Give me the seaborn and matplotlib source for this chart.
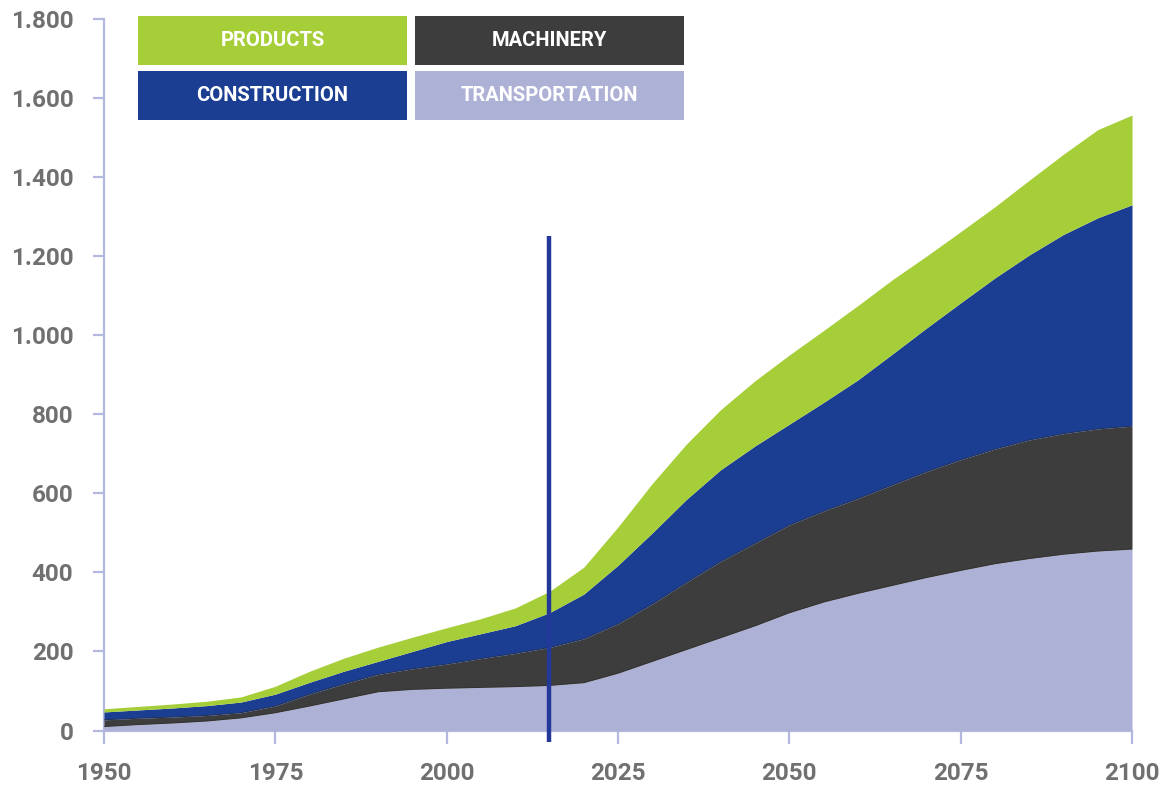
import numpy as np
import pandas as pd
import matplotlib
matplotlib.use("Agg")
import matplotlib.pyplot as plt
from matplotlib.patches import Rectangle
import seaborn as sns

# ---- data (cumulative tops) ----
years = [1950, 1955, 1960, 1965, 1970, 1975, 1980, 1985, 1990, 1995, 2000,
         2005, 2010, 2015, 2020, 2025, 2030, 2035, 2040, 2045, 2050, 2055,
         2060, 2065, 2070, 2075, 2080, 2085, 2090, 2095, 2100]
transportation = [10, 15, 19, 24, 32, 45, 62, 80, 98, 104, 107, 109, 111, 114, 121,
                  145, 175, 205, 235, 265, 298, 325, 347, 367, 387, 405, 422, 435,
                  446, 454, 459]
machinery_top = [27, 31, 34, 38, 45, 62, 92, 118, 142, 156, 168, 182, 195, 210, 232,
                 270, 320, 375, 428, 474, 520, 555, 587, 621, 655, 685, 712, 735,
                 751, 763, 770]
construction_top = [47, 52, 57, 63, 72, 92, 122, 150, 175, 200, 225, 245, 265, 298, 345,
                    418, 500, 585, 660, 720, 775, 830, 887, 952, 1018, 1082, 1145, 1203,
                    1255, 1297, 1330]
products_top = [55, 61, 67, 74, 85, 112, 150, 183, 211, 236, 260, 283, 310, 352, 413,
                515, 625, 725, 812, 885, 950, 1012, 1075, 1140, 1200, 1262, 1325, 1392,
                1458, 1520, 1557]

machinery = list(np.array(machinery_top) - np.array(transportation))
construction = list(np.array(construction_top) - np.array(machinery_top))
products = list(np.array(products_top) - np.array(construction_top))

categories = ["TRANSPORTATION", "MACHINERY", "CONSTRUCTION", "PRODUCTS"]
colors = {"TRANSPORTATION": "#ADB1D6", "MACHINERY": "#3D3D3D",
          "CONSTRUCTION": "#1B3E93", "PRODUCTS": "#A6CE39"}

x_ticks = [1950, 1975, 2000, 2025, 2050, 2075, 2100]
y_ticks = [0, 200, 400, 600, 800, 1000, 1200, 1400, 1600, 1800]
y_tick_labels = ["0", "200", "400", "600", "800", "1.000", "1.200", "1.400", "1.600", "1.800"]
marker_year = 2015
marker_top = 1250

legend_rows = [["PRODUCTS", "MACHINERY"], ["CONSTRUCTION", "TRANSPORTATION"]]

# ---- styling ----
sns.set_theme(style="white")
plt.rcParams["font.family"] = ["Roboto", "DejaVu Sans"]

spine_col = "#B4B8E0"
text_col = "#707070"

fig = plt.figure(figsize=(11.72, 7.93), dpi=100)
ax = fig.add_axes([104 / 1172, 62.5 / 793, 1028 / 1172, 711.5 / 793])

df = pd.DataFrame({"year": years, "TRANSPORTATION": transportation,
                   "MACHINERY": machinery, "CONSTRUCTION": construction,
                   "PRODUCTS": products})

base = np.zeros(len(df))
for cat in categories:
    top = base + df[cat].values
    ax.fill_between(df["year"], base, top, color=colors[cat], linewidth=0, zorder=2)
    base = top

# thin boundary lines (as in reference)
long = pd.DataFrame({"year": years * 2,
                     "val": transportation + machinery_top,
                     "edge": ["t"] * len(years) + ["m"] * len(years)})
sns.lineplot(data=long, x="year", y="val", units="edge", estimator=None,
             color="#2A2A2A", linewidth=0.6, alpha=0.6, ax=ax, zorder=3, legend=False)

# marker line at 2015
ax.plot([marker_year, marker_year], [-30, marker_top], color="#23399A",
        linewidth=3.2, solid_capstyle="butt", zorder=5, clip_on=False)

ax.set_xlim(1950, 2100)
ax.set_ylim(0, 1800)
ax.set_xticks(x_ticks)
ax.set_xticklabels([str(t) for t in x_ticks])
ax.set_yticks(y_ticks)
ax.set_yticklabels(y_tick_labels)
ax.set_xlabel("")
ax.set_ylabel("")

sns.despine(ax=ax, top=True, right=True)
for side in ["left", "bottom"]:
    ax.spines[side].set_color(spine_col)
    ax.spines[side].set_linewidth(1.6)
    ax.spines[side].set_zorder(1)

ax.tick_params(axis="x", bottom=True, direction="out", length=9, width=1.6, color=spine_col,
               pad=14, labelsize=17.5, labelcolor=text_col)
ax.tick_params(axis="y", left=True, direction="out", length=8, width=1.6, color=spine_col,
               pad=14, labelsize=17.5, labelcolor=text_col)
for lab in ax.get_xticklabels() + ax.get_yticklabels():
    lab.set_fontweight("bold")
ax.grid(False)

# legend boxes (figure pixel coords)
W, H = 1172, 793
box_x = [138, 415]
box_y = [16, 71]
box_w, box_h = 269, 49
for r, row in enumerate(legend_rows):
    for c, cat in enumerate(row):
        x0 = box_x[c]
        y0 = box_y[r]
        rect = Rectangle((x0 / W, 1 - (y0 + box_h) / H), box_w / W, box_h / H,
                         transform=fig.transFigure, facecolor=colors[cat],
                         edgecolor="none", zorder=10)
        fig.patches.append(rect)
        fig.text((x0 + box_w / 2) / W, 1 - (y0 + box_h / 2) / H, cat,
                 ha="center", va="center", color="white", fontsize=14.5,
                 fontweight="bold", zorder=11)

fig.savefig("out.png", dpi=100)
